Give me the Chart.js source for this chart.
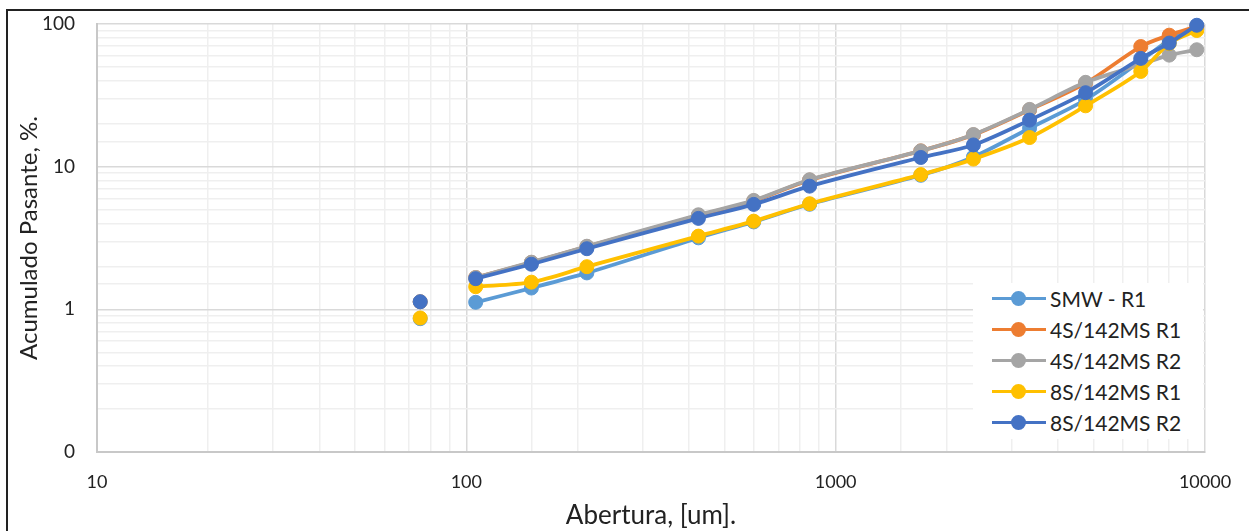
<!DOCTYPE html>
<html lang="es">
<head>
  <meta charset="UTF-8">
  <title>Acumulado Pasante vs Abertura</title>
  <script src="https://cdn.jsdelivr.net/npm/chart.js"></script>
  <style>
    html, body {
      margin: 0;
      padding: 0;
      background: #fff;
      overflow: hidden;
    }
    .wrap {
      position: relative;
      width: 1249px;
      height: 531px;
    }
    .frame {
      position: absolute;
      left: 6px;
      top: 9px;
      width: 1300px;
      height: 600px;
      border: 2px solid #222;
      pointer-events: none;
    }
    .legend {
      position: absolute;
      left: 973px;
      top: 283px;
      width: 230px;
      height: 156px;
      background: #fff;
      font-family: Lato, "Liberation Sans", sans-serif;
      font-size: 21px;
      color: #222;
    }
    .legend .item {
      position: absolute;
      left: 19px;
      height: 31px;
      line-height: 31px;
      white-space: nowrap;
    }
    .legend .swatch {
      display: inline-block;
      position: relative;
      width: 54px;
      height: 31px;
      vertical-align: top;
      margin-right: 4px;
    }
    .legend .swatch .ln {
      position: absolute;
      left: 0;
      right: 0;
      top: 14px;
      height: 3px;
    }
    .legend .swatch .dot {
      position: absolute;
      left: 19px;
      top: 8px;
      width: 15px;
      height: 15px;
      border-radius: 50%;
    }
  </style>
</head>
<body>
<div class="wrap">
  <canvas id="chart" width="1249" height="531"></canvas>
  <div class="legend" id="legend"></div>
  <div class="frame"></div>
</div>

<script>
  // Abertura (um) - 90 is a blank row in the source, so lines break there
  const sizes = [75, 90, 106, 150, 212, 425, 600, 850, 1700, 2360, 3350, 4750, 6700, 8000, 9500];

  const smwR1   = [0.86, null, 1.12, 1.41, 1.80, 3.17, 4.10, 5.45, 8.7, 11.7, 18.6, 29.5, 55, 77, 97];
  const s4msR1  = [1.13, null, 1.67, 2.13, 2.75, 4.55, 5.75, 8.05, 12.9, 16.7, 25.0, 38.5, 69.5, 83.5, 96];
  const s4msR2  = [1.13, null, 1.67, 2.14, 2.77, 4.6, 5.8, 8.1, 12.9, 16.8, 25.2, 39.0, 52, 60.5, 66];
  const s8msR1  = [0.87, null, 1.44, 1.55, 1.99, 3.26, 4.15, 5.5, 8.8, 11.3, 16.0, 26.7, 46.5, 73, 90];
  const s8msR2  = [1.13, null, 1.64, 2.07, 2.66, 4.34, 5.44, 7.3, 11.6, 14.2, 21.2, 33.0, 57.4, 73.5, 98];

  const seriesNames = ['SMW - R1', '4S/142MS R1', '4S/142MS R2', '8S/142MS R1', '8S/142MS R2'];
  const seriesColors = ['#5B9BD5', '#ED7D31', '#A5A5A5', '#FFC000', '#4472C4'];
  const seriesData = [smwR1, s4msR1, s4msR2, s8msR1, s8msR2];

  const xTickLabels = [10, 100, 1000, 10000];
  const yTickLabels = { 0.1: '0', 1: '1', 10: '10', 100: '100' };

  const font = "Lato, 'Liberation Sans', sans-serif";

  const datasets = seriesData.map((vals, i) => ({
    label: seriesNames[i],
    data: sizes.map((x, j) => ({ x: x, y: vals[j] })),
    borderColor: seriesColors[i],
    backgroundColor: seriesColors[i],
    pointBackgroundColor: seriesColors[i],
    pointBorderColor: seriesColors[i],
    pointRadius: 7,
    pointBorderWidth: 1,
    borderWidth: 3.8,
    tension: 0.3,
    spanGaps: false,
    clip: false,
    // later series drawn on top, like the original
    order: seriesData.length - i
  }));

  function isPow10(v) {
    const l = Math.log10(v);
    return Math.abs(l - Math.round(l)) < 1e-9;
  }

  const gridColor = ctx => {
    if (!ctx.tick) return '#e6e6e6';
    return isPow10(ctx.tick.value) ? '#d9d9d9' : '#efefef';
  };

  const ctx = document.getElementById('chart').getContext('2d');
  new Chart(ctx, {
    type: 'line',
    data: { datasets: datasets },
    options: {
      responsive: false,
      animation: false,
      layout: { padding: { left: 0, right: 44, top: 24, bottom: 0 } },
      plugins: {
        legend: { display: false },
        tooltip: { enabled: false }
      },
      scales: {
        x: {
          type: 'logarithmic',
          min: 10,
          max: 10000,
          // invisible tick marks give the label gap without extra side padding
          grid: { color: gridColor, lineWidth: 1.5, drawTicks: true, tickLength: 19, tickColor: 'rgba(0,0,0,0)' },
          border: { color: '#c8c8c8', width: 2 },
          ticks: {
            autoSkip: false,
            maxRotation: 0,
            padding: 0,
            color: '#222',
            font: { family: font, size: 18 },
            callback: v => xTickLabels.some(t => Math.abs(t - v) < 1e-6) ? String(v) : ''
          },
          title: {
            display: true,
            text: 'Abertura, [um].',
            color: '#222',
            font: { family: font, size: 26 },
            padding: { top: 0, bottom: 0 }
          },
          afterFit: s => { s.height = 79; }
        },
        y: {
          type: 'logarithmic',
          min: 0.1,
          max: 100,
          grid: { color: gridColor, lineWidth: 1.5, drawTicks: true, tickLength: 22, tickColor: 'rgba(0,0,0,0)' },
          border: { color: '#c8c8c8', width: 2 },
          ticks: {
            autoSkip: false,
            padding: 0,
            color: '#222',
            font: { family: font, size: 19 },
            callback: v => {
              for (const k in yTickLabels) {
                if (Math.abs(Number(k) - v) < 1e-9) return yTickLabels[k];
              }
              return '';
            }
          },
          title: {
            display: true,
            text: 'Acumulado Pasante, %.',
            color: '#222',
            font: { family: font, size: 24 },
            padding: { top: 15, bottom: 0 }
          },
          afterFit: s => { s.width = 97; }
        }
      }
    }
  });

  // legend (inside the plot, bottom right)
  const legend = document.getElementById('legend');
  seriesNames.forEach((name, i) => {
    const item = document.createElement('div');
    item.className = 'item';
    item.style.top = (i * 31) + 'px';
    item.innerHTML =
      '<span class="swatch"><span class="ln" style="background:' + seriesColors[i] + '"></span>' +
      '<span class="dot" style="background:' + seriesColors[i] + '"></span></span>' + name;
    legend.appendChild(item);
  });
</script>
</body>
</html>
